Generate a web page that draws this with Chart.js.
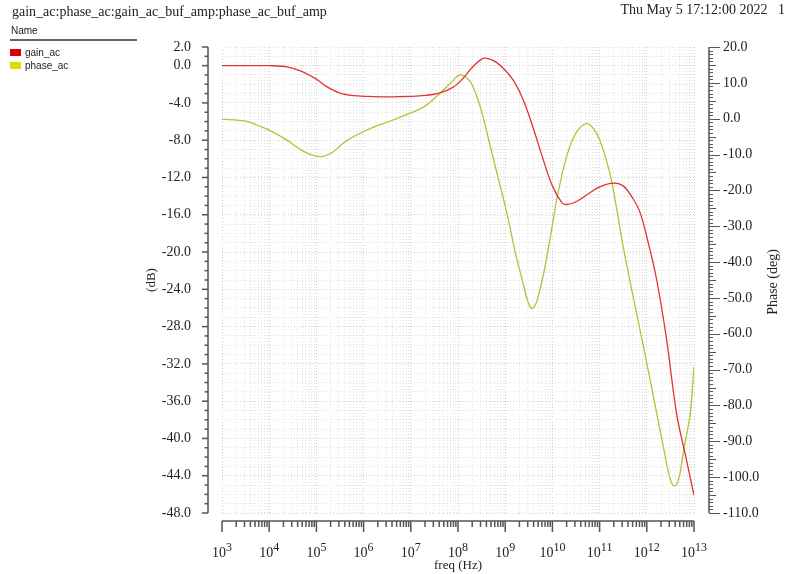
<!DOCTYPE html>
<html>
<head>
<meta charset="utf-8">
<script src="https://cdn.jsdelivr.net/npm/chart.js@4.4.0/dist/chart.umd.min.js"></script>
<style>
  body { margin: 0; background: #fff; }
  #wrap { position: relative; width: 787px; height: 574px; }
  #acChart { position: absolute; left: 0; top: 0; }
  .serif { position: absolute; font: 14px "Liberation Serif", serif; color: #222; white-space: pre; line-height: 16px; }
  .sans { position: absolute; font: 10px "Liberation Sans", sans-serif; color: #222; line-height: 12px; }
  .swatch { position: absolute; width: 11px; height: 7px; }
</style>
</head>
<body>
<div id="wrap">
  <canvas id="acChart" width="787" height="574"></canvas>
  <div class="serif" style="left:12px; top:4px;">gain_ac:phase_ac:gain_ac_buf_amp:phase_ac_buf_amp</div>
  <div class="serif" style="right:2px; top:2px;">Thu May 5 17:12:00 2022   1</div>
  <div class="sans" style="left:11px; top:25px;">Name</div>
  <div style="position:absolute; left:10px; top:39px; width:127px; height:2px; background:#666;"></div>
  <div class="swatch" style="left:10px; top:49px; background:#dd0000;"></div>
  <div class="sans" style="left:25px; top:47px;">gain_ac</div>
  <div class="swatch" style="left:10px; top:62px; background:#dddd00;"></div>
  <div class="sans" style="left:25px; top:60px;">phase_ac</div>
</div>
<script>
// frequency given as log10(Hz)
const gainExp = [3.0, 3.5, 4.0, 4.4, 4.7, 5.0, 5.2, 5.5, 5.8, 6.2, 6.6, 7.0, 7.3, 7.6, 7.9, 8.1, 8.3, 8.5, 8.6, 8.8,
  9.0, 9.2, 9.4, 9.6, 9.8, 10.0, 10.2, 10.3, 10.5, 10.75, 11.0, 11.3, 11.5, 11.7, 11.86, 12.05, 12.21, 12.42, 12.63, 12.84, 13.0];
const gainDb = [0.0, 0.0, 0.0, -0.15, -0.65, -1.45, -2.2, -2.95, -3.22, -3.32, -3.35, -3.3, -3.2, -2.95, -2.3, -1.4, -0.2, 0.7, 0.8, 0.4,
  -0.5, -1.8, -3.9, -6.8, -10.0, -12.9, -14.7, -14.9, -14.6, -13.8, -13.0, -12.6, -12.9, -14.2, -15.8, -19.4, -23.0, -29.4, -37.3, -42.3, -46.1];

const phaseExp = [3.0, 3.5, 3.8, 4.1, 4.4, 4.7, 4.95, 5.15, 5.35, 5.6, 5.9, 6.2, 6.6, 7.0, 7.3, 7.6, 7.85, 8.04, 8.2, 8.32,
  8.5, 8.68, 8.85, 9.03, 9.2, 9.38, 9.48, 9.56, 9.64, 9.72, 9.81, 9.95, 10.09, 10.3, 10.5, 10.73, 10.9, 11.0, 11.12, 11.25,
  11.5, 11.71, 11.93, 12.14, 12.35, 12.47, 12.55, 12.62, 12.7, 12.77, 12.92, 13.0];
const phaseDeg = [-0.1, -0.7, -2.1, -3.9, -6.2, -8.9, -10.3, -10.5, -9.3, -6.5, -4.2, -2.4, -0.5, 1.6, 3.5, 6.9, 10.0, 12.2, 11.2, 8.9,
  2.0, -7.5, -16.5, -26, -36.5, -46, -51, -52.9, -52, -48.5, -43.5, -33.5, -22.7, -10.6, -4.0, -1.3, -3.3, -5.9, -10.5, -17.1,
  -35.7, -49.6, -63.6, -77.5, -91.5, -99.3, -102.2, -102.3, -99.2, -93.3, -82.2, -69.2];

const decadeExps = [3, 4, 5, 6, 7, 8, 9, 10, 11, 12, 13];
const dbTicks = [2, 0, -4, -8, -12, -16, -20, -24, -28, -32, -36, -40, -44, -48];
const phaseTicks = [20, 10, 0, -10, -20, -30, -40, -50, -60, -70, -80, -90, -100, -110];

const serif = '"Liberation Serif", serif';

function toPoints(exps, vals) {
  return exps.map((e, i) => ({ x: Math.pow(10, e), y: vals[i] }));
}

function isDecade(v) {
  const l = Math.log10(v);
  return Math.abs(l - Math.round(l)) < 1e-6;
}

const offsetAxes = {
  id: "offsetAxes",
  afterDraw(chart) {
    const { ctx, chartArea: a, scales } = chart;
    const x = scales.x, y = scales.y, y1 = scales.y1;
    const seg = (x0, y0, x2, y2) => { ctx.beginPath(); ctx.moveTo(x0, y0); ctx.lineTo(x2, y2); ctx.stroke(); };
    ctx.save();
    ctx.strokeStyle = "#555";
    ctx.lineWidth = 1.5;

    // left dB axis
    const lx = 208;
    seg(lx, y.getPixelForValue(2), lx, y.getPixelForValue(-48));
    for (let v = 2; v >= -48; v--) {
      const py = y.getPixelForValue(v);
      seg(lx - (dbTicks.includes(v) ? 6 : 3.5), py, lx, py);
    }

    // right phase axis
    const rx = 709;
    seg(rx, y1.getPixelForValue(20), rx, y1.getPixelForValue(-110));
    ctx.lineWidth = 1;
    for (let v = 20; v >= -110; v--) {
      const py = Math.round(y1.getPixelForValue(v)) + 0.5;
      const len = v % 10 === 0 ? 11 : (v % 5 === 0 ? 7 : 4);
      seg(rx, py, rx + len, py);
    }

    // frequency axis
    ctx.lineWidth = 1.5;
    const by = 521;
    seg(a.left, by, a.right, by);
    for (let d = 3; d <= 13; d++) {
      for (let k = 1; k <= 9; k++) {
        if (d === 13 && k > 1) break;
        const px = x.getPixelForValue(k * Math.pow(10, d));
        seg(px, by, px, by + (k === 1 ? 11 : 6));
      }
    }

    // decade labels 10^n
    ctx.fillStyle = "#222";
    ctx.textBaseline = "alphabetic";
    ctx.textAlign = "left";
    decadeExps.forEach((e) => {
      const px = x.getPixelForValue(Math.pow(10, e));
      ctx.font = "14px " + serif;
      const w1 = ctx.measureText("10").width;
      ctx.font = "12px " + serif;
      const w2 = ctx.measureText(String(e)).width;
      const sx = px - (w1 + w2) / 2;
      ctx.font = "14px " + serif;
      ctx.fillText("10", sx, 557);
      ctx.font = "12px " + serif;
      ctx.fillText(String(e), sx + w1, 551);
    });

    // right axis title, reading upwards
    ctx.translate(773, 282);
    ctx.rotate(-Math.PI / 2);
    ctx.font = "14px " + serif;
    ctx.textAlign = "center";
    ctx.textBaseline = "middle";
    ctx.fillText("Phase (deg)", 0, 0);
    ctx.restore();
  },
};

new Chart(document.getElementById("acChart"), {
  type: "line",
  data: {
    datasets: [
      {
        label: "gain_ac",
        data: toPoints(gainExp, gainDb),
        yAxisID: "y",
        borderColor: "#e03434",
        borderWidth: 1.3,
        pointRadius: 0,
        tension: 0.35,
      },
      {
        label: "phase_ac",
        data: toPoints(phaseExp, phaseDeg),
        yAxisID: "y1",
        borderColor: "#b4c234",
        borderWidth: 1.3,
        pointRadius: 0,
        tension: 0.35,
      },
    ],
  },
  options: {
    responsive: false,
    animation: false,
    events: [],
    layout: { padding: { top: 47, left: 0, right: 0, bottom: 0 } },
    plugins: { legend: { display: false }, tooltip: { enabled: false } },
    scales: {
      x: {
        type: "logarithmic",
        min: 1e3,
        max: 1e13,
        afterBuildTicks: (scale) => {
          const t = [];
          for (let d = 3; d <= 13; d++) {
            for (let k = 1; k <= 9; k++) {
              if (d === 13 && k > 1) break;
              t.push({ value: k * Math.pow(10, d) });
            }
          }
          scale.ticks = t;
        },
        afterFit: (scale) => { scale.height = 61; },
        ticks: { display: false },
        grid: {
          drawTicks: false,
          color: (c) => (c.tick && isDecade(c.tick.value) ? "#cccccc" : "#e2e2e2"),
        },
        border: { display: false, dash: [1, 2] },
        title: {
          display: true,
          text: "freq (Hz)",
          color: "#222",
          font: { family: serif, size: 13 },
          padding: { top: 0, bottom: 1 },
        },
      },
      y: {
        position: "left",
        min: -48,
        max: 2,
        afterBuildTicks: (scale) => {
          const t = [];
          for (let v = 2; v >= -48; v--) t.push({ value: v });
          scale.ticks = t;
        },
        afterFit: (scale) => { scale.width = 222; },
        ticks: {
          autoSkip: false,
          padding: 31,
          color: "#222",
          font: { family: serif, size: 14 },
          callback: (v) => (dbTicks.includes(v) ? v.toFixed(1) : ""),
        },
        grid: {
          drawTicks: false,
          color: (c) => (c.tick && c.tick.value % 4 === 0 ? "#d0d0d0" : "#e2e2e2"),
        },
        border: { display: false, dash: [1, 2] },
        title: {
          display: true,
          text: "(dB)",
          color: "#222",
          font: { family: serif, size: 13 },
          padding: { top: 144, bottom: 0 },
        },
      },
      y1: {
        position: "right",
        min: -110,
        max: 20,
        afterBuildTicks: (scale) => {
          scale.ticks = phaseTicks.map((v) => ({ value: v }));
        },
        afterFit: (scale) => { scale.width = 93; },
        ticks: {
          autoSkip: false,
          padding: 29,
          color: "#222",
          font: { family: serif, size: 14 },
          callback: (v) => v.toFixed(1),
        },
        grid: { drawOnChartArea: false, drawTicks: false },
        border: { display: false },
      },
    },
  },
  plugins: [offsetAxes],
});
</script>
</body>
</html>
